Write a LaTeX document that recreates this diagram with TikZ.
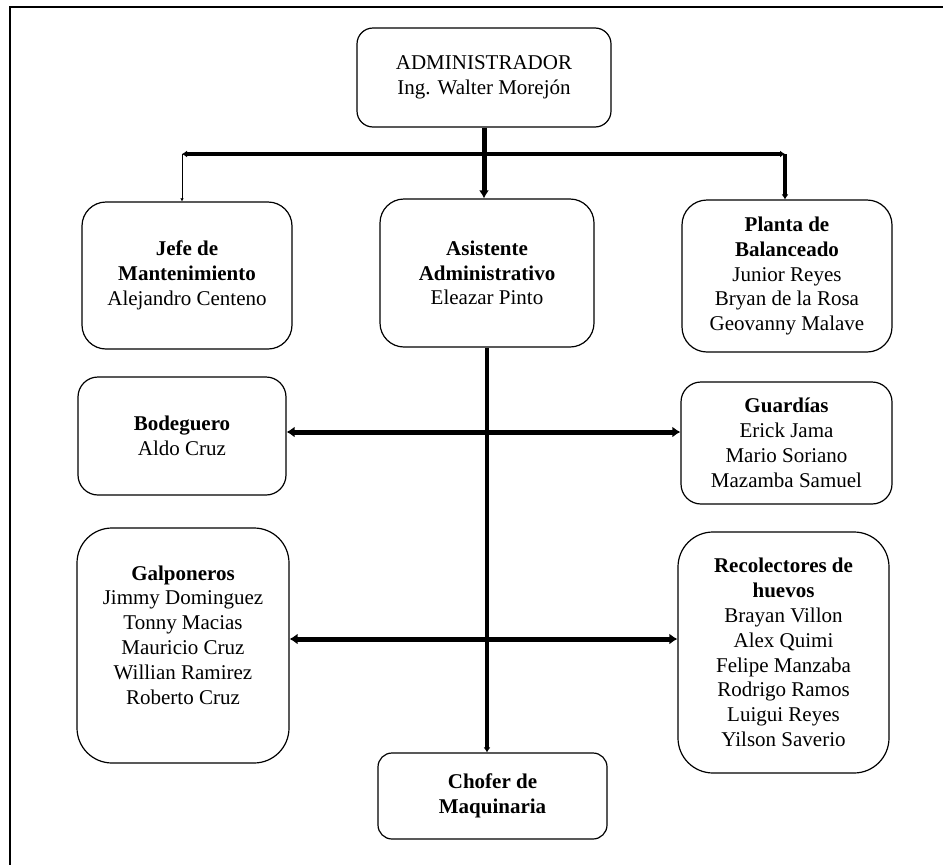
\documentclass[tikz,border=0pt]{standalone}
\usepackage{fontspec}
\setmainfont{Liberation Serif}
\usetikzlibrary{arrows.meta}

\begin{document}
\begin{tikzpicture}[x=1pt, y=-1pt,
        every node/.style={draw, rounded corners=20pt, align=center, line width=1.2pt, inner sep=0pt, font=\fontsize{21}{24.8}\selectfont},
        ]
        \useasboundingbox (0,0) rectangle (943,865);
        % Marco
        \draw[line width=1.5pt] (10,865) -- (10,7) -- (943,7);

        % Nodos principales
        \node[minimum width=254pt, minimum height=99pt, rounded corners=16pt] (admin) at (484,77.5) {ADMINISTRADOR\\Ing. Walter Morejón};
        \node[minimum width=210pt, minimum height=147pt, rounded corners=24pt] (jefe) at (187,275.5) {\textbf{Jefe de}\\\textbf{Mantenimiento}\\Alejandro Centeno};
        \node[minimum width=214pt, minimum height=148pt, rounded corners=24pt] (asist) at (487,273) {\textbf{Asistente}\\\textbf{Administrativo}\\Eleazar Pinto};
        \node[minimum width=210pt, minimum height=152pt, rounded corners=25pt] (planta) at (787,276) {\textbf{Planta de}\\\textbf{Balanceado}\\Junior Reyes\\Bryan de la Rosa\\Geovanny Malave};

        % Nodos secundarios
        \node[minimum width=208pt, minimum height=118pt, rounded corners=20pt] (bodeg) at (182,436) {\textbf{Bodeguero}\\Aldo Cruz};
        \node[minimum width=211pt, minimum height=122pt, rounded corners=20pt] (guard) at (786.5,443) {\textbf{Guardías}\\Erick Jama\\Mario Soriano\\Mazamba Samuel};
        \node[minimum width=212pt, minimum height=235pt, rounded corners=35pt] (galpo) at (183,645.5) {};
        \node[draw=none] (galpotxt) at (183,635) {\textbf{Galponeros}\\Jimmy Dominguez\\Tonny Macias\\Mauricio Cruz\\Willian Ramirez\\Roberto Cruz};
        \node[minimum width=211pt, minimum height=241pt, rounded corners=35pt] (recol) at (783.5,652.5) {\textbf{Recolectores de}\\\textbf{huevos}\\Brayan Villon\\Alex Quimi\\Felipe Manzaba\\Rodrigo Ramos\\Luigui Reyes\\Yilson Saverio};
        \node[minimum width=229pt, minimum height=86pt, rounded corners=14pt] (chofer) at (492.5,796) {\textbf{Chofer de}\\\textbf{Maquinaria}};

        % Barra superior
        \coordinate (barL) at (182,154);
        \coordinate (barR) at (785,154);

        % Conexiones
        \draw[-{Latex[length=8pt,width=10pt]}, line width=5pt] (admin.south) -- (admin.south |- asist.north);
        \draw[{Latex[length=5pt,width=7pt]}-{Latex[length=5pt,width=7pt]}, line width=4pt] (barL) -- (barR);
        \draw[-{Latex[length=3pt,width=3.5pt]}, line width=1pt] (barL) -- (barL |- jefe.north);
        \draw[-{Latex[length=5pt,width=7pt]}, line width=4pt] (barR) -- (barR |- planta.north);
        \draw[-{Latex[length=5pt,width=7pt]}, line width=3.5pt] (asist.south) -- (asist.south |- chofer.north);

        \draw[{Latex[length=8pt,width=11pt]}-{Latex[length=8pt,width=11pt]}, line width=5pt] ([yshift=4pt]bodeg.east) -- ([yshift=4pt]bodeg.east -| guard.west);
        \draw[{Latex[length=8pt,width=11pt]}-{Latex[length=8pt,width=11pt]}, line width=5pt] ([yshift=6.5pt]galpo.east) -- ([yshift=6.5pt]galpo.east -| recol.west);
        \end{tikzpicture}
\end{document}
